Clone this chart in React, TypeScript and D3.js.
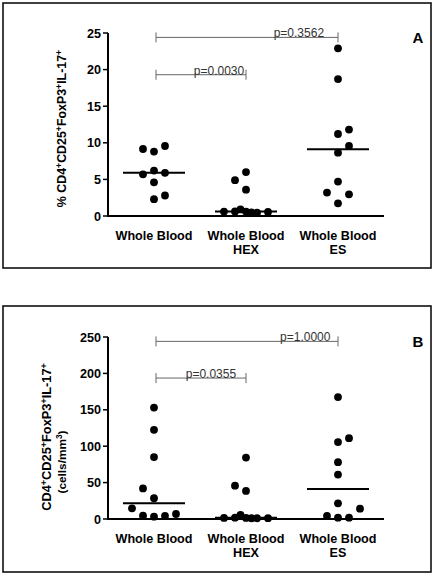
import React from "react";
import * as d3 from "d3";

// Categories (multi-line tick labels)
const categories = ["Whole Blood", "Whole Blood HEX", "Whole Blood ES"];
const categoryLines = [["Whole Blood"], ["Whole Blood", "HEX"], ["Whole Blood", "ES"]];

// Panel A: % CD4+CD25+FoxP3+IL-17+
const aWholeBlood = [8.8, 9.56, 9.15, 6.2, 5.9, 5.7, 4.6, 2.3, 2.8];
const aHex = [0.6, 0.62, 0.45, 0.6, 0.55, 0.9, 0.5, 6.0, 4.9, 3.6];
const aEs = [1.73, 2.96, 3.2, 4.7, 8.65, 9.56, 11.2, 11.8, 18.7, 22.9];
const aTicks = [0, 5, 10, 15, 20, 25];

// Panel B: cells/mm3
const bWholeBlood = [3.2, 4.6, 4.1, 14.7, 6.9, 28.5, 42, 85, 122.5, 153];
const bHex = [1.5, 1.8, 1.0, 1.5, 1.2, 5.5, 1.0, 84.4, 38.5, 45.8];
const bEs = [1.8, 1.8, 4.1, 14.2, 21.6, 61, 78, 105.6, 111, 167.5];
const bTicks = [0, 50, 100, 150, 200, 250];

// p-value comparisons
const aComparisons = [
  { from: 0, to: 1, level: 19.3, label: "p=0.0030", pos: 0.7 },
  { from: 0, to: 2, level: 24.4, label: "p=0.3562", pos: 0.785 },
];
const bComparisons = [
  { from: 0, to: 1, level: 193.6, label: "p=0.0355", pos: 0.61 },
  { from: 0, to: 2, level: 244, label: "p=1.0000", pos: 0.82 },
];

// layout: preferred side for displacing overlapping dots in each column
const swarmSideA = [1, -1, 1];
const swarmSideB = [-1, -1, 1];

const FONT = "'Liberation Sans', Arial, Helvetica, sans-serif";

type Seg = [string, boolean];
const titleA: Seg[] = [["% CD4", false], ["+", true], ["CD25", false], ["+", true], ["FoxP3", false], ["+", true], ["IL-17", false], ["+", true]];
const titleB1: Seg[] = [["CD4", false], ["+", true], ["CD25", false], ["+", true], ["FoxP3", false], ["+", true], ["IL-17", false], ["+", true]];
const titleB2: Seg[] = [["(cells/mm", false], ["3", true], [")", false]];

function renderSegs(segs: Seg[], supSize: number) {
  return segs.map(([t, sup], i) => {
    const prevSup = i > 0 && segs[i - 1][1];
    if (sup) {
      return (
        <tspan key={i} dy={-4.5} fontSize={supSize}>{t}</tspan>
      );
    }
    return (
      <tspan key={i} dy={prevSup ? 4.5 : 0}>{t}</tspan>
    );
  });
}

function swarm(values: number[], y: (v: number) => number, cx: number, side: number, step = 11, minDist = 11, maxRing = 2) {
  const placed: { x: number; y: number }[] = [];
  const minD = (px: number, py: number) =>
    placed.reduce((m, p) => Math.min(m, Math.hypot(p.x - px, p.y - py)), Infinity);
  const cands: number[] = [0];
  for (let k = 1; k <= maxRing; k++) cands.push(side * k * step, -side * k * step);
  const half: number[] = [];
  for (let k = 0; k < maxRing; k++) half.push(side * (k + 0.5) * step, -side * (k + 0.5) * step);
  return values.map((v) => {
    const py = y(v);
    for (const off of cands) {
      if (minD(cx + off, py) >= minDist - 1e-6) {
        placed.push({ x: cx + off, y: py });
        return { x: cx + off, y: py };
      }
    }
    for (const off of half) {
      if (minD(cx + off, py) >= step / 2 - 0.01) {
        placed.push({ x: cx + off, y: py });
        return { x: cx + off, y: py };
      }
    }
    let best = 0;
    let bestD = -1;
    for (const off of [...cands, ...half]) {
      const d = minD(cx + off, py);
      if (d > bestD) { bestD = d; best = off; }
    }
    placed.push({ x: cx + best, y: py });
    return { x: cx + best, y: py };
  });
}

type PanelProps = {
  frame: [number, number, number, number];
  y0: number;
  y1: number;
  ticks: number[];
  series: number[][];
  sides: number[];
  comps: { from: number; to: number; level: number; label: string; pos: number }[];
  letter: string;
  title: React.ReactNode;
};

function Panel({ frame, y0, y1, ticks, series, sides, comps, letter, title }: PanelProps) {
  const x = d3.scaleBand<string>().domain(categories).range([108, 384]);
  const yMax = ticks[ticks.length - 1];
  const y = d3.scaleLinear().domain([0, yMax]).range([y0, y1]);
  const cx = (c: string) => (x(c) as number) + x.bandwidth() / 2;
  return (
    <g>
      <rect x={frame[0]} y={frame[1]} width={frame[2] - frame[0]} height={frame[3] - frame[1]} fill="none" stroke="#111" strokeWidth={1.6} />
      {/* y axis */}
      <line x1={108} x2={108} y1={y(0) + 1} y2={y(yMax)} stroke="#000" strokeWidth={2} />
      {ticks.map((t) => (
        <g key={t}>
          <line x1={103} x2={108} y1={y(t)} y2={y(t)} stroke="#000" strokeWidth={1.5} />
          <text x={101} y={y(t)} dy="0.36em" textAnchor="end" fontFamily={FONT} fontWeight="bold" fontSize={12.6} fill="#000">{t}</text>
        </g>
      ))}
      {/* x axis */}
      <line x1={107} x2={384} y1={y(0)} y2={y(0)} stroke="#000" strokeWidth={2} />
      {categories.map((c, i) => (
        <text key={c} x={cx(c)} y={y(0) + 24} textAnchor="middle" fontFamily={FONT} fontWeight="bold" fontSize={12.6} fill="#000">
          {categoryLines[i].map((l, j) => (
            <tspan key={j} x={cx(c)} dy={j === 0 ? 0 : 14}>{l}</tspan>
          ))}
        </text>
      ))}
      {/* dots */}
      {series.map((vals, i) => {
        const c = categories[i];
        const pts = swarm(vals, y, cx(c), sides[i]);
        const med = d3.median(vals) as number;
        return (
          <g key={c}>
            {pts.map((p, j) => (
              <circle key={j} cx={p.x} cy={p.y} r={3.9} fill="#000" />
            ))}
            <line x1={cx(c) - 31} x2={cx(c) + 31} y1={y(med)} y2={y(med)} stroke="#000" strokeWidth={2} />
          </g>
        );
      })}
      {/* comparisons */}
      {comps.map((cmp, i) => {
        const xa = cx(categories[cmp.from]) + 2;
        const xb = cx(categories[cmp.to]);
        const ly = y(cmp.level);
        return (
          <g key={i}>
            <line x1={xa} x2={xb} y1={ly} y2={ly} stroke="#666" strokeWidth={1} />
            <line x1={xa} x2={xa} y1={ly - 5} y2={ly + 5} stroke="#666" strokeWidth={1} />
            <line x1={xb} x2={xb} y1={ly - 5} y2={ly + 5} stroke="#666" strokeWidth={1} />
            <text x={xa + (xb - xa) * cmp.pos} y={ly} textAnchor="middle" fontFamily={FONT} fontSize={12} fill="#333">{cmp.label}</text>
          </g>
        );
      })}
      <text x={418} y={y1 + 10} textAnchor="middle" fontFamily={FONT} fontWeight="bold" fontSize={15} fill="#000">{letter}</text>
      {title}
    </g>
  );
}

export default function App() {
  return (
    <svg width={437} height={575} style={{ position: "absolute", left: 0, top: 0, background: "#fff" }}>
      <rect x={0} y={0} width={437} height={575} fill="#fff" />
      <Panel
        frame={[3, 3, 431, 268]}
        y0={216}
        y1={33}
        ticks={aTicks}
        series={[aWholeBlood, aHex, aEs]}
        sides={swarmSideA}
        comps={aComparisons}
        letter="A"
        title={
          <text transform="translate(66,128.5) rotate(-90)" textAnchor="middle" fontFamily={FONT} fontWeight="bold" fontSize={12.4} fill="#000">
            {renderSegs(titleA, 8.7)}
          </text>
        }
      />
      <Panel
        frame={[3, 306, 431, 572]}
        y0={519}
        y1={337}
        ticks={bTicks}
        series={[bWholeBlood, bHex, bEs]}
        sides={swarmSideB}
        comps={bComparisons}
        letter="B"
        title={
          <g>
            <text transform="translate(51,437) rotate(-90)" textAnchor="middle" fontFamily={FONT} fontWeight="bold" fontSize={12.8} fill="#000">
              {renderSegs(titleB1, 9)}
            </text>
            <text transform="translate(66,462) rotate(-90)" textAnchor="middle" fontFamily={FONT} fontWeight="bold" fontSize={11.8} fill="#000">
              {renderSegs(titleB2, 8.3)}
            </text>
          </g>
        }
      />
    </svg>
  );
}
